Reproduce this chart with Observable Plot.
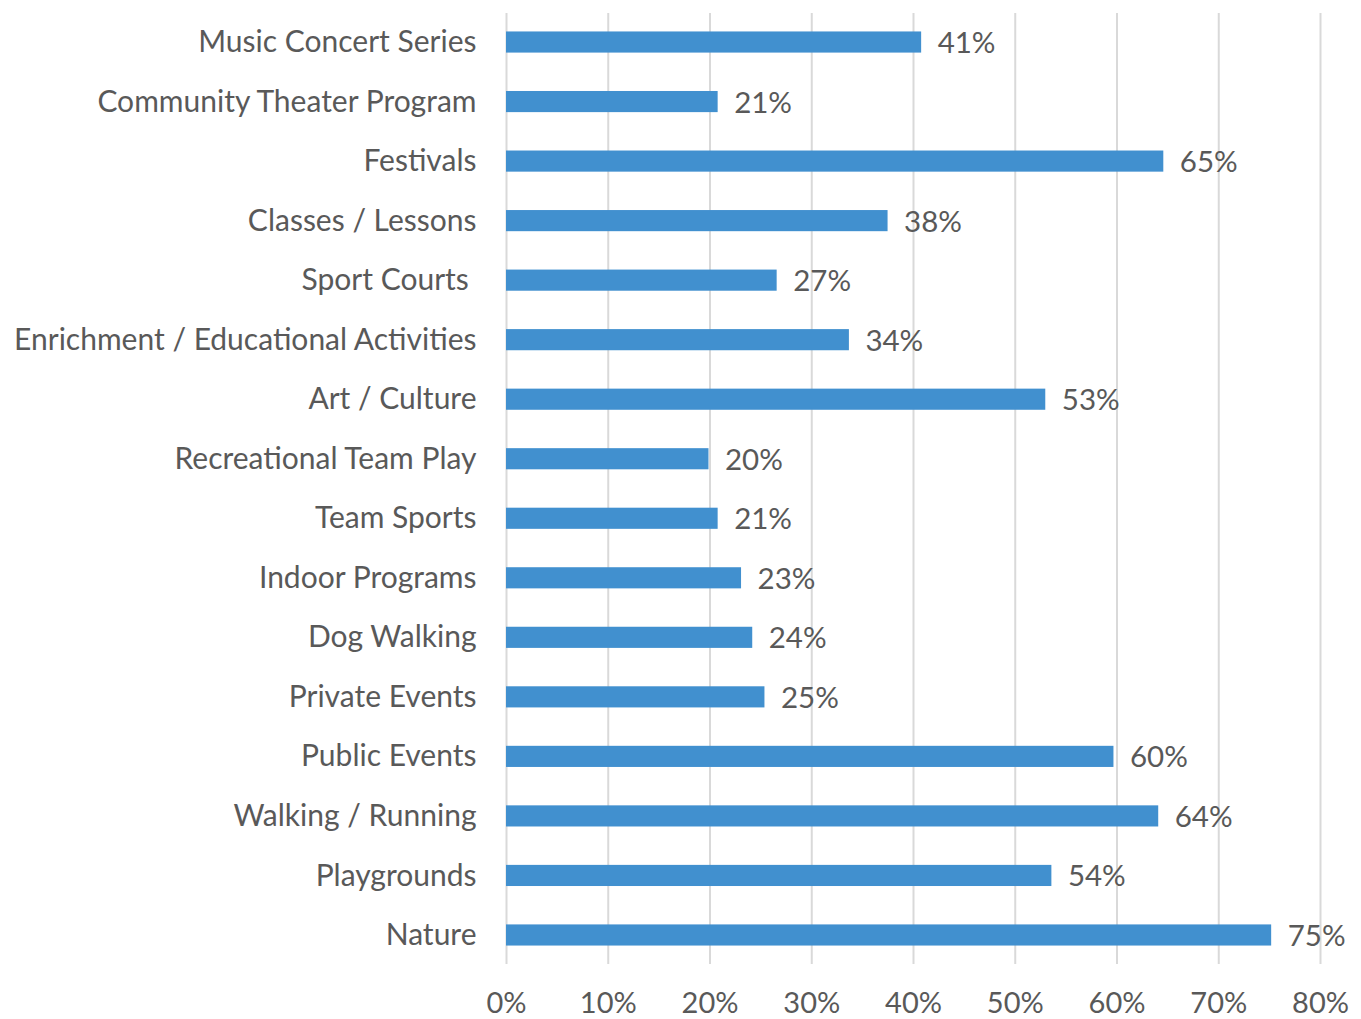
<!DOCTYPE html>
<html>
<head>
<meta charset="utf-8">
<script src="https://cdn.jsdelivr.net/npm/d3@7"></script>
<script src="https://cdn.jsdelivr.net/npm/@observablehq/plot@0.6"></script>
<style>
  html, body { margin: 0; padding: 0; background: #fff; }
  #chart svg { display: block; }
</style>
</head>
<body>
<div id="chart"></div>
<script>
const categories = [
  "Music Concert Series",
  "Community Theater Program",
  "Festivals",
  "Classes / Lessons",
  "Sport Courts\u00a0",
  "Enrichment / Educational Activities",
  "Art / Culture",
  "Recreational Team Play",
  "Team Sports",
  "Indoor Programs",
  "Dog Walking",
  "Private Events",
  "Public Events",
  "Walking / Running",
  "Playgrounds",
  "Nature"
];
const values = [40.8, 20.8, 64.6, 37.5, 26.6, 33.7, 53.0, 19.9, 20.8, 23.1, 24.2, 25.4, 59.7, 64.1, 53.6, 75.2];
const xTicks = [0, 10, 20, 30, 40, 50, 60, 70, 80];

const data = categories.map((c, i) => ({ category: c, value: values[i] }));
const textColor = "#595959";

const chart = Plot.plot({
  width: 1361,
  height: 1019,
  marginLeft: 506,
  marginRight: 41,
  marginTop: 13,
  marginBottom: 55,
  style: { fontFamily: "Lato, 'Noto Sans', sans-serif", fontSize: "29px", color: textColor, background: "#fff" },
  x: { domain: [0, 80], ticks: xTicks, tickFormat: d => d + "%", label: null },
  y: { domain: categories, paddingInner: 0.645, paddingOuter: 0.31, round: false, label: null },
  marks: [
    Plot.gridX(xTicks, { stroke: "#d9d9d9", strokeOpacity: 1, strokeWidth: 2 }),
    Plot.barX(data, { x: "value", y: "category", fill: "#4190cf" }),
    Plot.text(data, {
      x: "value", y: "category",
      text: d => Math.round(d.value) + "%",
      textAnchor: "start", dx: 16, dy: 1, fill: textColor, fontSize: 29.5
    }),
    Plot.axisX({ ticks: xTicks, tickFormat: d => d + "%", tickSize: 0, tickPadding: 28, fontSize: 29, fill: textColor, label: null }),
    Plot.axisY({ tickSize: 0, tickPadding: 30, fontSize: 30, fill: textColor, label: null })
  ]
});
document.getElementById("chart").appendChild(chart);
</script>
</body>
</html>
